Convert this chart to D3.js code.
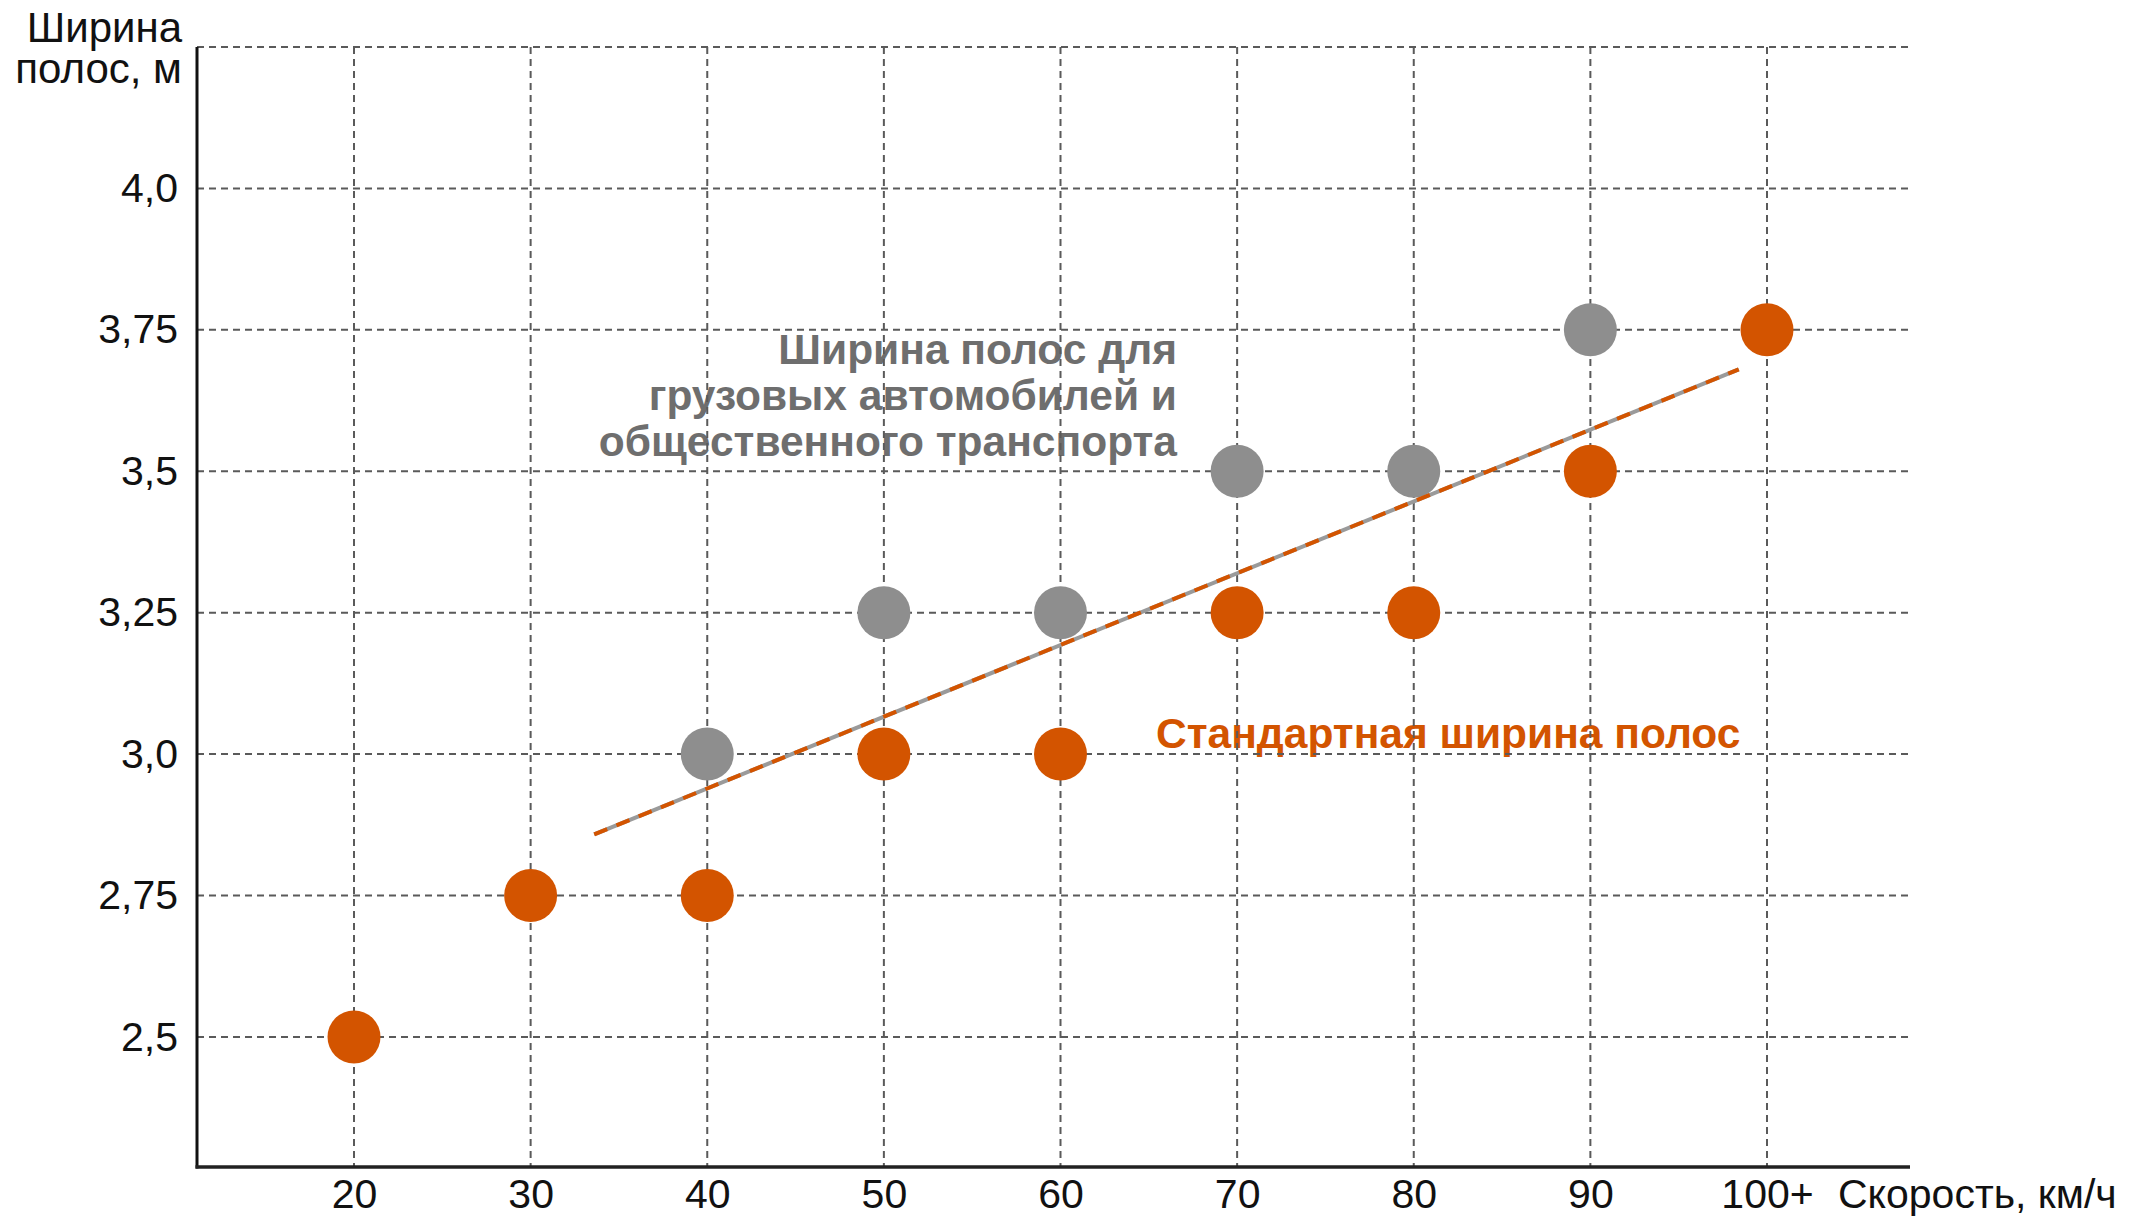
<!DOCTYPE html>
<html lang="ru">
<head>
  <meta charset="UTF-8">
  <title>Ширина полос</title>
  <style>
    body{ margin: 0; background: #fff; }
    svg{ display: block; font-family: Arial, "Liberation Sans", Helvetica, sans-serif; }
  </style>
</head>
<body>
<svg width="2131" height="1218"></svg>

<script src="https://cdn.jsdelivr.net/npm/d3@7"></script>
<script>
  // данные
  var speeds = [20, 30, 40, 50, 60, 70, 80, 90, 100];
  var speedLabels = ['20', '30', '40', '50', '60', '70', '80', '90', '100+'];
  var standardWidth = [2.5, 2.75, 2.75, 3.0, 3.0, 3.25, 3.25, 3.5, 3.75];
  var truckWidth = [null, null, 3.0, 3.25, 3.25, 3.5, 3.5, 3.75, null];
  var gridWidths = [2.5, 2.75, 3.0, 3.25, 3.5, 3.75, 4.0, 4.25];
  var widthTicks = [2.5, 2.75, 3.0, 3.25, 3.5, 3.75, 4.0];
  var widthTickLabels = ['2,5', '2,75', '3,0', '3,25', '3,5', '3,75', '4,0'];
  var trendSpeed = [33.6, 98.4];
  var trendWidth = [2.858, 3.68];

  var orange = '#d35400', grey = '#8e8e8e';
  var svg = d3.select('svg');
  var marge = {left: 197, right: 1910, top: 47, bottom: 1167};

  var x = d3.scaleLinear().domain([20, 100]).range([354, 1767]);
  var y = d3.scaleLinear().domain([2.27, 4.25]).range([marge.bottom, marge.top]);

  //подписи серий (под сеткой)
  var gLab = svg.append('g').attr('font-weight', 'bold').attr('font-size', 42.5);
  gLab.append('text').attr('text-anchor', 'end').attr('fill', '#6e6e6e')
    .selectAll('tspan')
    .data(['Ширина полос для', 'грузовых автомобилей и', 'общественного транспорта'])
    .enter().append('tspan')
    .attr('x', 1177).attr('y', function (d, i) { return 364 + i * 46; })
    .text(function (d) { return d; });
  gLab.append('text').attr('x', 1156).attr('y', 748).attr('fill', orange)
    .text('Стандартная ширина полос');

  //сетка
  var grid = svg.append('g').attr('stroke', '#5a5a5a').attr('stroke-width', 2)
    .attr('stroke-dasharray', '7,5').attr('fill', 'none');
  grid.selectAll('.h').data(gridWidths).enter().append('line')
    .attr('x1', marge.left).attr('x2', marge.right)
    .attr('y1', function (d) { return y(d); }).attr('y2', function (d) { return y(d); });
  grid.selectAll('.v').data(speeds).enter().append('line')
    .attr('y1', marge.top).attr('y2', marge.bottom)
    .attr('x1', function (d) { return x(d); }).attr('x2', function (d) { return x(d); });

  //оси
  var yAxis = d3.axisLeft(y).tickValues(widthTicks).tickSize(0).tickPadding(19)
    .tickFormat(function (d, i) { return widthTickLabels[i]; });
  var gy = svg.append('g').attr('transform', 'translate(' + marge.left + ',0)').call(yAxis);
  gy.select('.domain').remove();
  gy.selectAll('text').attr('font-size', 41).attr('fill', '#111');
  gy.attr('font-family', null);

  var xAxis = d3.axisBottom(x).tickValues(speeds).tickSize(0).tickPadding(12)
    .tickFormat(function (d, i) { return speedLabels[i]; });
  var gx = svg.append('g').attr('transform', 'translate(0,' + marge.bottom + ')').call(xAxis);
  gx.select('.domain').remove();
  gx.selectAll('text').attr('font-size', 41).attr('fill', '#111');
  gx.attr('font-family', null);

  svg.append('line').attr('x1', marge.left).attr('x2', marge.left)
    .attr('y1', marge.top).attr('y2', marge.bottom + 1.5)
    .attr('stroke', '#111').attr('stroke-width', 3);
  svg.append('line').attr('x1', marge.left - 1.5).attr('x2', marge.right)
    .attr('y1', marge.bottom).attr('y2', marge.bottom)
    .attr('stroke', '#222').attr('stroke-width', 3.5);

  //названия осей
  svg.append('text').attr('text-anchor', 'end').attr('font-size', 42).attr('fill', '#111')
    .selectAll('tspan').data(['Ширина', 'полос, м']).enter().append('tspan')
    .attr('x', 182).attr('y', function (d, i) { return 42 + i * 41; })
    .text(function (d) { return d; });
  svg.append('text').attr('x', 1838).attr('y', 1208).attr('font-size', 41).attr('fill', '#111')
    .text('Скорость, км/ч');

  //точки
  var points = [];
  speeds.forEach(function (s, i) {
    if (truckWidth[i] != null) points.push({s: s, v: truckWidth[i], c: grey});
    points.push({s: s, v: standardWidth[i], c: orange});
  });
  svg.append('g').selectAll('circle').data(points).enter().append('circle')
    .attr('cx', function (d) { return x(d.s); })
    .attr('cy', function (d) { return y(d.v); })
    .attr('r', 26.5)
    .attr('fill', function (d) { return d.c; });

  //линия тренда
  var trend = trendSpeed.map(function (s, i) { return [x(s), y(trendWidth[i])]; });
  var line = d3.line();
  svg.append('path').attr('d', line(trend)).attr('stroke', '#9a9a9a').attr('stroke-width', 4).attr('fill', 'none');
  svg.append('path').attr('d', line(trend)).attr('stroke', orange).attr('stroke-width', 4).attr('fill', 'none')
    .attr('stroke-dasharray', '14,10');
</script>
</body>
</html>
